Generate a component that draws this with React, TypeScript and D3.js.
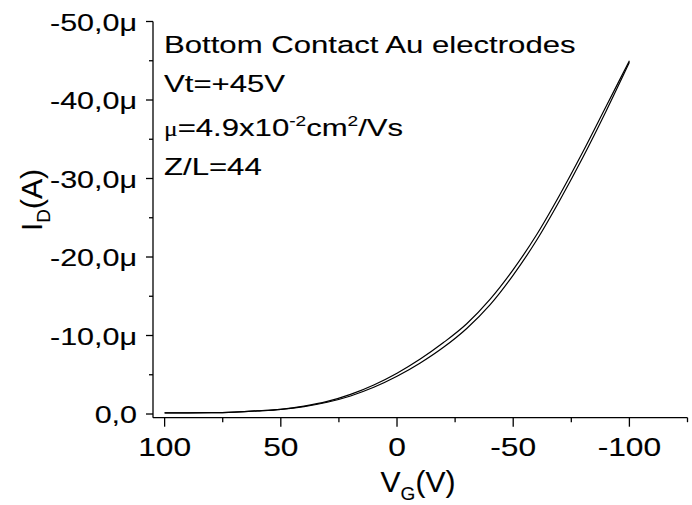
import React from "react";
import * as d3 from "d3";

const VG = [100, 90, 80, 70, 60, 50, 40, 30, 20, 10, 0, -10, -20, -30, -40, -50, -60, -70, -80, -90, -100];
// drain current in µA (negative), two sweep directions
const ID_OUTER = [-0.15, -0.15, -0.17, -0.25, -0.4, -0.6, -1.0, -1.6, -2.5, -3.7, -5.2, -7.0, -9.1, -11.5, -14.6, -18.4, -22.8, -27.9, -33.4, -39.2, -45.0];
const ID_INNER = [-0.15, -0.15, -0.17, -0.25, -0.4, -0.6, -0.95, -1.5, -2.3, -3.4, -4.8, -6.5, -8.5, -10.9, -13.9, -17.7, -22.1, -27.2, -32.7, -38.6, -44.8];

const X_TICKS = [100, 50, 0, -50, -100];
const X_MINOR = [75, 25, -25, -75, -125];
const Y_TICKS = [0, -10, -20, -30, -40, -50];
const Y_LABELS = ["0,0", "-10,0μ", "-20,0μ", "-30,0μ", "-40,0μ", "-50,0μ"];
const Y_MINOR = [-5, -15, -25, -35, -45];

const FONT = "'Liberation Sans', Arial, Helvetica, sans-serif";
const SX = 1.27;

export default function App() {
  const W = 692, H = 505;
  const x = d3.scaleLinear().domain([105, -125]).range([153, 687.5]);
  const y = d3.scaleLinear().domain([0.47, -50]).range([417.7, 21.5]);
  const line = d3
    .line<number>()
    .x((_, i) => x(VG[i]))
    .y((d) => y(d))
    .curve(d3.curveMonotoneX);

  const x0 = x.range()[0];
  const yb = y.range()[0];

  const stretched = (tx: number, ty: number, content: React.ReactNode, anchor = "start", fs = 24) => (
    <g transform={`translate(${tx},${ty}) scale(${SX},1)`}>
      <text textAnchor={anchor} fontSize={fs} fontFamily={FONT} fill="#000" stroke="#000" strokeWidth={0.12}>
        {content}
      </text>
    </g>
  );

  return (
    <svg width={W} height={H} style={{ position: "absolute", left: 0, top: 0, background: "#fff" }}>
      <rect width={W} height={H} fill="#fff" />
      {/* axes */}
      <line x1={x0} x2={x0} y1={y(-50)} y2={yb} stroke="#000" strokeWidth={1.3} />
      <line x1={x0} x2={x.range()[1]} y1={yb} y2={yb} stroke="#000" strokeWidth={1.3} />
      {X_TICKS.map((t) => (
        <line key={"xt" + t} x1={x(t)} x2={x(t)} y1={yb} y2={yb + 9} stroke="#000" strokeWidth={1.3} />
      ))}
      {X_MINOR.map((t) => (
        <line key={"xm" + t} x1={x(t)} x2={x(t)} y1={yb} y2={yb + 4.5} stroke="#000" strokeWidth={1.3} />
      ))}
      {Y_TICKS.map((t) => (
        <line key={"yt" + t} x1={x0 - 7} x2={x0} y1={y(t)} y2={y(t)} stroke="#000" strokeWidth={1.3} />
      ))}
      {Y_MINOR.map((t) => (
        <line key={"ym" + t} x1={x0 - 4} x2={x0} y1={y(t)} y2={y(t)} stroke="#000" strokeWidth={1.3} />
      ))}
      {X_TICKS.map((t) => (
        <React.Fragment key={"xl" + t}>{stretched(x(t), yb + 38.5, String(t), "middle", 25)}</React.Fragment>
      ))}
      {Y_TICKS.map((t, i) => (
        <React.Fragment key={"yl" + t}>{stretched(x0 - 16, y(t) + 9, Y_LABELS[i], "end", 24)}</React.Fragment>
      ))}
      {/* curves */}
      <path d={line(ID_OUTER) || ""} fill="none" stroke="#000" strokeWidth={1.2} />
      <path d={line(ID_INNER) || ""} fill="none" stroke="#000" strokeWidth={1.2} />
      {/* axis titles */}
      <text x={418} y={491.7} textAnchor="middle" fontSize={30} fontFamily={FONT} stroke="#000" strokeWidth={0.12}>
        V<tspan fontSize={19} dy={8}>G</tspan>
        <tspan dy={-8}>(V)</tspan>
      </text>
      <text transform="translate(41.5,200) rotate(-90)" textAnchor="middle" fontSize={30} fontFamily={FONT} stroke="#000" strokeWidth={0.12}>
        I<tspan fontSize={19} dy={8}>D</tspan>
        <tspan dy={-8}>(A)</tspan>
      </text>
      {/* annotation */}
      {stretched(164, 52.7, "Bottom Contact Au electrodes", "start", 24.5)}
      {stretched(164, 91.7, "Vt=+45V", "start", 24.5)}
      {stretched(
        164,
        136,
        <>
          <tspan fontFamily="'Liberation Serif', 'Times New Roman', serif" fontSize={20}>μ</tspan>
          <tspan>=4.9x10</tspan>
          <tspan fontSize={15} dy={-10}>-2</tspan>
          <tspan dy={10}>cm</tspan>
          <tspan fontSize={15} dy={-10}>2</tspan>
          <tspan dy={10}>/Vs</tspan>
        </>,
        "start",
        24.5
      )}
      {stretched(164, 175, "Z/L=44", "start", 24.5)}
    </svg>
  );
}
